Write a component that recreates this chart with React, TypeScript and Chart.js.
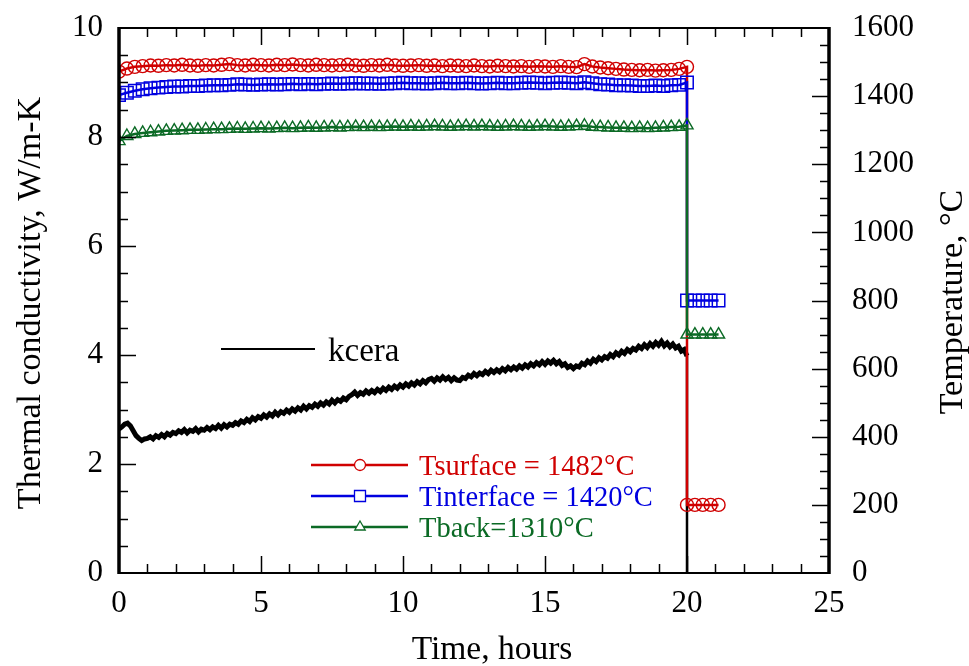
import React, { useEffect, useRef } from "react";
import { Chart, registerables } from "chart.js";

Chart.register(...registerables);

// sampling interval of the temperature logger (1000 s), hours
const STEP_H = 1000 / 3600;
// sampling interval of the conductivity record, hours
const KCERA_STEP_H = 0.1;

const xTickValues = [0, 5, 10, 15, 20, 25];
const leftTickValues = [0, 2, 4, 6, 8, 10];
const rightTickValues = [0, 200, 400, 600, 800, 1000, 1200, 1400, 1600];

// temperatures during the test (t = 0 .. 20 h), °C
const surfaceT = [
  1472, 1481, 1486, 1488, 1490, 1489, 1491, 1490, 1492, 1490,
  1489, 1491, 1490, 1492, 1494, 1491, 1490, 1492, 1491, 1490,
  1492, 1491, 1493, 1491, 1490, 1492, 1491, 1490, 1491, 1492,
  1490, 1489, 1491, 1490, 1492, 1490, 1489, 1490, 1491, 1489,
  1490, 1488, 1490, 1489, 1488, 1490, 1488, 1487, 1489, 1488,
  1487, 1488, 1486, 1488, 1487, 1486, 1488, 1486, 1485, 1494,
  1487, 1484, 1482, 1480, 1478, 1477, 1476, 1477, 1475, 1476,
  1477, 1480, 1486,
];
const interfaceT = [
  1403, 1410, 1416, 1420, 1423, 1425, 1427, 1428, 1428, 1430,
  1430, 1431, 1432, 1432, 1433, 1435, 1434, 1433, 1434, 1435,
  1434, 1435, 1436, 1435, 1436, 1435, 1436, 1437, 1436, 1437,
  1438, 1437, 1437, 1436, 1437, 1438, 1439, 1438, 1438, 1437,
  1438, 1439, 1438, 1438, 1439, 1438, 1437, 1438, 1439, 1438,
  1438, 1439, 1440, 1439, 1438, 1439, 1440, 1439, 1438, 1441,
  1438, 1435, 1434, 1432, 1432, 1431, 1430, 1430, 1431, 1430,
  1432, 1433, 1440,
];
const backT = [
  1268, 1283, 1289, 1292, 1294, 1296, 1298, 1299, 1300, 1301,
  1301, 1302, 1303, 1303, 1304, 1305, 1304, 1305, 1306, 1305,
  1306, 1307, 1306, 1307, 1308, 1307, 1308, 1309, 1308, 1309,
  1310, 1309, 1310, 1309, 1310, 1311, 1310, 1311, 1310, 1311,
  1312, 1311, 1310, 1311, 1312, 1311, 1312, 1311, 1310, 1311,
  1312, 1311, 1310, 1311, 1312, 1311, 1310, 1311, 1312, 1313,
  1310, 1309, 1308, 1307, 1307, 1306, 1307, 1306, 1307, 1308,
  1309, 1310, 1314,
];
// temperatures after the burner was switched off (from t = 20 h), °C
const surfaceAfter = [200, 200, 200, 200, 200];
const interfaceAfter = [800, 800, 800, 800, 800];
const backAfter = [700, 700, 700, 700, 700];

// thermal conductivity of the ceramic, W/m-K (every 0.1 h, 0 .. 20 h)
const kcera = [
  2.64, 2.68, 2.73, 2.75, 2.70, 2.61, 2.52, 2.47, 2.43, 2.46,
  2.47, 2.50, 2.46, 2.52, 2.49, 2.54, 2.50, 2.56, 2.53, 2.58,
  2.56, 2.61, 2.58, 2.63, 2.57, 2.62, 2.60, 2.65, 2.59, 2.64,
  2.62, 2.67, 2.63, 2.68, 2.65, 2.71, 2.66, 2.72, 2.68, 2.73,
  2.71, 2.76, 2.73, 2.79, 2.76, 2.82, 2.78, 2.85, 2.81, 2.87,
  2.84, 2.90, 2.86, 2.92, 2.88, 2.95, 2.90, 2.96, 2.93, 2.99,
  2.95, 3.01, 2.97, 3.03, 2.99, 3.06, 3.01, 3.07, 3.04, 3.10,
  3.06, 3.12, 3.08, 3.14, 3.10, 3.17, 3.12, 3.18, 3.15, 3.21,
  3.18, 3.24, 3.27, 3.32, 3.26, 3.31, 3.28, 3.34, 3.30, 3.35,
  3.31, 3.37, 3.33, 3.39, 3.35, 3.41, 3.37, 3.43, 3.39, 3.45,
  3.41, 3.47, 3.43, 3.49, 3.45, 3.51, 3.47, 3.53, 3.49, 3.55,
  3.57, 3.52, 3.58, 3.54, 3.60, 3.55, 3.59, 3.53, 3.58, 3.54,
  3.53, 3.59, 3.57, 3.63, 3.60, 3.66, 3.62, 3.67, 3.64, 3.70,
  3.66, 3.72, 3.68, 3.73, 3.69, 3.75, 3.71, 3.77, 3.73, 3.78,
  3.74, 3.80, 3.76, 3.82, 3.78, 3.84, 3.80, 3.86, 3.82, 3.88,
  3.83, 3.89, 3.85, 3.90, 3.84, 3.88, 3.81, 3.84, 3.77, 3.80,
  3.75, 3.80, 3.78, 3.85, 3.82, 3.89, 3.85, 3.92, 3.88, 3.95,
  3.91, 3.97, 3.94, 4.01, 3.97, 4.04, 4.00, 4.07, 4.03, 4.10,
  4.06, 4.12, 4.09, 4.16, 4.12, 4.19, 4.14, 4.21, 4.16, 4.23,
  4.18, 4.25, 4.17, 4.22, 4.15, 4.20, 4.13, 4.16, 4.07, 4.10,
  3.98,
];
const kceraEnd = 0;

const RED = "#d00000";
const BLUE = "#0000e0";
const GREEN = "#0b6a25";
const FONT = "'Liberation Serif', 'Times New Roman', serif";

function tempPoints(main: number[], after: number[]) {
  const pts = main.map((v, i) => ({ x: i * STEP_H, y: v }));
  const tEnd = (main.length - 1) * STEP_H;
  after.forEach((v, k) => pts.push({ x: tEnd + k * STEP_H, y: v }));
  return pts;
}

const decorPlugin = {
  id: "decor",
  afterDatasetsDraw(chart: any) {
    const { ctx, chartArea: a, scales } = chart;
    const sx = scales.x, sy = scales.y, sy2 = scales.y2;
    ctx.save();
    ctx.strokeStyle = "#000";
    ctx.lineWidth = 1.5;
    ctx.beginPath();
    for (let t = 1; t < 25; t++) {
      const px = Math.round(sx.getPixelForValue(t)) + 0.5;
      const len = t % 5 === 0 ? 17 : 9;
      ctx.moveTo(px, a.bottom);
      ctx.lineTo(px, a.bottom - len);
      ctx.moveTo(px, a.top);
      ctx.lineTo(px, a.top + len);
    }
    for (let k = 1; k < 20; k++) {
      const py = Math.round(sy.getPixelForValue(k * 0.5)) + 0.5;
      const len = k % 4 === 0 ? 17 : 9;
      ctx.moveTo(a.left, py);
      ctx.lineTo(a.left + len, py);
    }
    for (let k = 1; k < 32; k++) {
      const py = Math.round(sy2.getPixelForValue(k * 50)) + 0.5;
      const len = k % 4 === 0 ? 17 : 9;
      ctx.moveTo(a.right, py);
      ctx.lineTo(a.right - len, py);
    }
    ctx.stroke();
    // frame
    ctx.lineWidth = 2;
    ctx.beginPath();
    ctx.moveTo(a.left, a.top);
    ctx.lineTo(a.right, a.top);
    ctx.moveTo(a.left, a.bottom);
    ctx.lineTo(a.right, a.bottom);
    ctx.stroke();
    ctx.lineWidth = 3.5;
    ctx.beginPath();
    ctx.moveTo(a.left, a.top - 1);
    ctx.lineTo(a.left, a.bottom + 1);
    ctx.moveTo(a.right, a.top - 1);
    ctx.lineTo(a.right, a.bottom + 1);
    ctx.stroke();
    ctx.restore();
  },
  afterDraw(chart: any) {
    const { ctx } = chart;
    ctx.save();
    ctx.fillStyle = "#000";
    ctx.textAlign = "center";
    // x axis title
    ctx.font = `33.5px ${FONT}`;
    ctx.textBaseline = "alphabetic";
    ctx.fillText("Time, hours", 492, 659);
    // left axis title
    ctx.font = `34px ${FONT}`;
    ctx.textBaseline = "middle";
    ctx.save();
    ctx.translate(31, 303);
    ctx.rotate(-Math.PI / 2);
    ctx.fillText("Thermal conductivity, W/m-K", 0, 0);
    ctx.restore();
    // right axis title (reads bottom to top)
    ctx.save();
    ctx.translate(953, 302);
    ctx.rotate(-Math.PI / 2);
    ctx.fillText("Temperature, °C", 0, 0);
    ctx.restore();
    ctx.restore();

    ctx.save();
    // kcera legend
    ctx.strokeStyle = "#000";
    ctx.lineWidth = 2;
    ctx.beginPath();
    ctx.moveTo(221, 349);
    ctx.lineTo(315, 349);
    ctx.stroke();
    ctx.fillStyle = "#000";
    ctx.font = `33px ${FONT}`;
    ctx.textBaseline = "alphabetic";
    ctx.textAlign = "left";
    ctx.fillText("kcera", 328, 361);

    // temperature legend
    const entries = [
      { y: 465, c: RED, text: "Tsurface = 1482°C", m: "circle" },
      { y: 496, c: BLUE, text: "Tinterface = 1420°C", m: "rect" },
      { y: 527, c: GREEN, text: "Tback=1310°C", m: "triangle" },
    ];
    ctx.font = `28.5px ${FONT}`;
    for (const e of entries) {
      ctx.strokeStyle = e.c;
      ctx.lineWidth = 2.5;
      ctx.beginPath();
      ctx.moveTo(311, e.y);
      ctx.lineTo(408, e.y);
      ctx.stroke();
      ctx.lineWidth = 1.3;
      ctx.fillStyle = "#fff";
      ctx.beginPath();
      if (e.m === "circle") {
        ctx.arc(360, e.y, 5.5, 0, Math.PI * 2);
      } else if (e.m === "rect") {
        ctx.rect(354.5, e.y - 5.5, 11, 11);
      } else {
        ctx.moveTo(360, e.y - 6);
        ctx.lineTo(365.2, e.y + 3);
        ctx.lineTo(354.8, e.y + 3);
        ctx.closePath();
      }
      ctx.fill();
      ctx.stroke();
      ctx.fillStyle = e.c;
      ctx.fillText(e.text, 419, e.y + 9.5);
    }
    ctx.restore();
  },
};

const noPad = (s: any) => {
  s.paddingTop = 0;
  s.paddingBottom = 0;
  s.paddingLeft = 0;
  s.paddingRight = 0;
};

export default function App() {
  const canvasRef = useRef<HTMLCanvasElement | null>(null);

  useEffect(() => {
    const canvas = canvasRef.current;
    if (!canvas) return;
    const kPts = kcera.map((v, i) => ({ x: i * KCERA_STEP_H, y: v }));
    kPts.push({ x: (kcera.length - 1) * KCERA_STEP_H, y: kceraEnd });
    const dropIndex = kPts.length - 1;

    const tickFont = { family: FONT, size: 31 };
    const plain = (v: any) => String(v);

    const chart = new Chart(canvas, {
      type: "line",
      data: {
        datasets: [
          {
            label: "Tback=1310°C",
            data: tempPoints(backT, backAfter),
            yAxisID: "y2",
            borderColor: GREEN,
            borderWidth: 2.5,
            pointStyle: "triangle",
            pointRadius: 7,
            pointBorderWidth: 1.4,
            pointBackgroundColor: "rgba(0,0,0,0)",
            pointBorderColor: GREEN,
            order: 0,
          },
          {
            label: "Tinterface = 1420°C",
            data: tempPoints(interfaceT, interfaceAfter),
            yAxisID: "y2",
            borderColor: BLUE,
            borderWidth: 2.5,
            pointStyle: "rect",
            pointRadius: 8.8,
            pointBorderWidth: 1.5,
            pointBackgroundColor: "rgba(0,0,0,0)",
            pointBorderColor: BLUE,
            order: 1,
          },
          {
            label: "Tsurface = 1482°C",
            data: tempPoints(surfaceT, surfaceAfter),
            yAxisID: "y2",
            borderColor: RED,
            borderWidth: 2.5,
            pointStyle: "circle",
            pointRadius: 6.5,
            pointBorderWidth: 1.4,
            pointBackgroundColor: "rgba(0,0,0,0)",
            pointBorderColor: RED,
            order: 2,
          },
          {
            label: "kcera",
            data: kPts,
            yAxisID: "y",
            borderColor: "#000",
            borderWidth: 5,
            pointRadius: 0,
            order: 3,
            segment: {
              borderWidth: (c: any) => (c.p1DataIndex === dropIndex ? 2.5 : 5),
            },
          },
        ],
      },
      options: {
        animation: false,
        responsive: false,
        layout: { padding: { top: 28, left: 0, right: 0, bottom: 0 } },
        plugins: {
          legend: { display: false },
          tooltip: { enabled: false },
        },
        elements: { line: { tension: 0 } },
        scales: {
          x: {
            type: "linear",
            position: "bottom",
            min: 0,
            max: 25,
            afterFit: (s: any) => {
              s.height = 93;
              noPad(s);
            },
            afterBuildTicks: (s: any) => {
              s.ticks = xTickValues.map((v) => ({ value: v }));
            },
            ticks: {
              color: "#000",
              font: tickFont,
              padding: 12,
              maxRotation: 0,
              autoSkip: false,
              callback: plain,
            },
            grid: { display: false, drawTicks: false },
            border: { display: false },
          },
          y: {
            type: "linear",
            position: "left",
            min: 0,
            max: 10,
            afterFit: (s: any) => {
              s.width = 119;
              noPad(s);
            },
            afterBuildTicks: (s: any) => {
              s.ticks = leftTickValues.map((v) => ({ value: v }));
            },
            ticks: { color: "#000", font: tickFont, padding: 16, callback: plain },
            grid: { display: false, drawTicks: false },
            border: { display: false },
          },
          y2: {
            type: "linear",
            position: "right",
            min: 0,
            max: 1600,
            afterFit: (s: any) => {
              s.width = 140;
              noPad(s);
            },
            afterBuildTicks: (s: any) => {
              s.ticks = rightTickValues.map((v) => ({ value: v }));
            },
            ticks: { color: "#000", font: tickFont, padding: 23, callback: plain },
            grid: { display: false, drawTicks: false },
            border: { display: false },
          },
        },
      },
      plugins: [decorPlugin],
    });
    return () => chart.destroy();
  }, []);

  return (
    <div style={{ position: "fixed", left: 0, top: 0, width: 969, height: 666, background: "#fff" }}>
      <canvas ref={canvasRef} width={969} height={666} />
    </div>
  );
}
